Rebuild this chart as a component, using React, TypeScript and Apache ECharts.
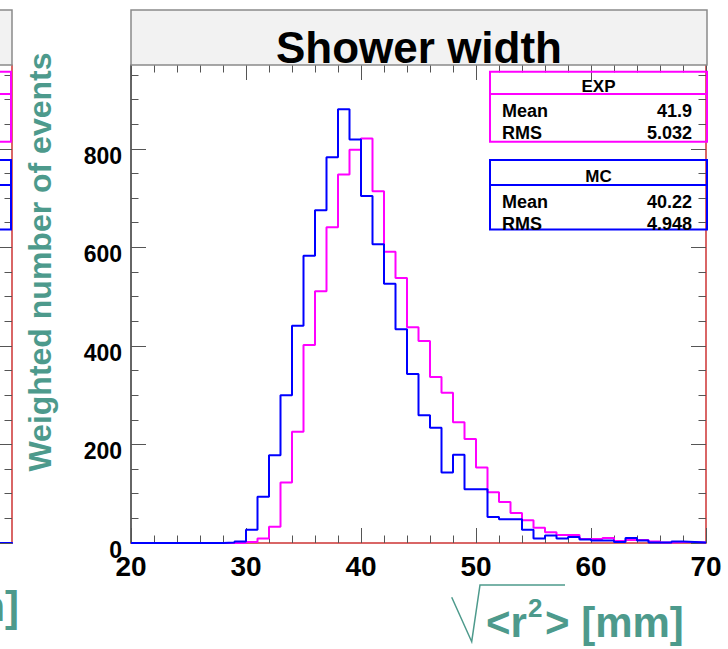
import React, { useEffect, useRef } from 'react';
import * as echarts from 'echarts';

// ---- data -------------------------------------------------------------
const BIN_LOW_EDGES = [
  20, 21, 22, 23, 24, 25, 26, 27, 28, 29,
  30, 31, 32, 33, 34, 35, 36, 37, 38, 39,
  40, 41, 42, 43, 44, 45, 46, 47, 48, 49,
  50, 51, 52, 53, 54, 55, 56, 57, 58, 59,
  60, 61, 62, 63, 64, 65, 66, 67, 68, 69,
];
const X_UPPER_EDGE = 70;

const EXP_COUNTS = [
  0, 0, 0, 0, 0, 0, 0, 0, 0, 0,
  2, 9, 33, 123, 226, 402, 511, 641, 748, 798,
  821, 714, 591, 538, 438, 410, 337, 305, 245, 211,
  153, 103, 83, 61, 46, 31, 22, 16, 16, 8,
  8, 10, 4, 6, 6, 3, 1, 2, 2, 1,
];
const MC_COUNTS = [
  0, 0, 0, 0, 0, 0, 0, 0, 1, 3,
  27, 94, 178, 300, 441, 583, 675, 783, 880, 819,
  704, 606, 526, 434, 343, 259, 234, 143, 179, 109,
  109, 53, 48, 48, 27, 9, 15, 9, 12, 7,
  5, 5, 2, 10, 5, 1, 1, 3, 2, 1,
];

const Y_MAJOR_TICKS = [0, 200, 400, 600, 800];
const Y_MINOR_TICKS = [50, 100, 150, 250, 300, 350, 450, 500, 550, 650, 700, 750, 850, 900, 950];

const EXP_STATS = ['EXP', '41.9', '5.032'];
const MC_STATS = ['MC', '40.22', '4.948'];
const STAT_NAMES = ['Mean', 'RMS'];

// ---- style ------------------------------------------------------------
const FONT = "'Liberation Sans', Arial, Helvetica, sans-serif";
const TEAL = '#4d9a8c';
const RED = '#cc3333';
const TICK = '#555555';
const MAGENTA = '#ff00ff';
const BLUE = '#0000ff';

function histPoints(counts: number[]) {
  const pts = BIN_LOW_EDGES.map((x, i) => [x, counts[i]]);
  pts.push([X_UPPER_EDGE, counts[counts.length - 1]]);
  return pts;
}

function statBox(top: number, div: number, bottom: number, color: string, left: number, right: number, labels: string[], withText: boolean) {
  const els: any[] = [
    {
      type: 'rect',
      z: 50,
      shape: { x: left, y: top, width: right - left, height: bottom - top },
      style: { fill: 'none', stroke: color, lineWidth: 2 },
    },
    {
      type: 'line',
      z: 50,
      shape: { x1: left, y1: div, x2: right, y2: div },
      style: { stroke: color, lineWidth: 2 },
    },
  ];
  if (withText) {
    const cx = (left + right) / 2;
    els.push({
      type: 'text', z: 51, x: cx, y: (top + div) / 2 + 4,
      style: { text: labels[0], fontFamily: FONT, fontWeight: 'bold', fontSize: 17, fill: '#000', align: 'center', verticalAlign: 'middle' },
    });
    const rowY = [div + 17, div + 38.5];
    STAT_NAMES.forEach((n, i) => {
      els.push({
        type: 'text', z: 51, x: left + 12, y: rowY[i],
        style: { text: n, fontFamily: FONT, fontWeight: 'bold', fontSize: 18, fill: '#000', align: 'left', verticalAlign: 'middle' },
      });
      els.push({
        type: 'text', z: 51, x: right - 15, y: rowY[i],
        style: { text: labels[i + 1], fontFamily: FONT, fontWeight: 'bold', fontSize: 18, fill: '#000', align: 'right', verticalAlign: 'middle' },
      });
    });
  }
  return els;
}

export default function App() {
  const ref = useRef<HTMLDivElement>(null);

  useEffect(() => {
    if (!ref.current) return;
    const chart = echarts.init(ref.current, undefined, { renderer: 'svg' });

    const tickStyle = { color: TICK, width: 1 };
    const yBase = { type: 'value', min: 0, max: 970, splitLine: { show: false } };

    const option: any = {
      animation: false,
      grid: [
        { left: 131, right: 22, top: 65, bottom: 106, containLabel: false, outerBoundsMode: 'none' },
        { left: -564, right: 716, top: 65, bottom: 106, containLabel: false, outerBoundsMode: 'none' },
      ],
      xAxis: [
        {
          gridIndex: 0, type: 'value', position: 'bottom', min: 20, max: 70, interval: 10,
          axisLine: { show: true, onZero: false, lineStyle: { color: RED, width: 1.5 } },
          axisTick: { show: true, inside: true, length: 15, lineStyle: tickStyle },
          minorTick: { show: true, splitNumber: 5, length: 7.5, lineStyle: tickStyle },
          axisLabel: { show: true, margin: 9, color: '#000', fontFamily: FONT, fontWeight: 'bold', fontSize: 28 },
          splitLine: { show: false },
        },
        {
          gridIndex: 0, type: 'value', position: 'top', min: 20, max: 70, interval: 10,
          axisLine: { show: false, onZero: false },
          axisTick: { show: true, inside: true, length: 15, lineStyle: tickStyle },
          minorTick: { show: true, splitNumber: 5, length: 7.5, lineStyle: tickStyle },
          axisLabel: { show: false },
          splitLine: { show: false },
        },
        {
          gridIndex: 1, type: 'value', position: 'bottom', min: 20, max: 70, interval: 10,
          axisLine: { show: true, onZero: false, lineStyle: { color: BLUE, width: 2 } },
          axisTick: { show: false },
          axisLabel: { show: false },
          splitLine: { show: false },
        },
      ],
      yAxis: [
        {
          ...yBase, gridIndex: 0, position: 'left',
          axisLine: { show: true, onZero: false, lineStyle: { color: '#333', width: 1.5 } },
          axisTick: { show: true, inside: true, length: 15, customValues: Y_MAJOR_TICKS, lineStyle: tickStyle },
          axisLabel: {
            show: true, customValues: Y_MAJOR_TICKS, margin: 9, color: '#000',
            fontFamily: FONT, fontWeight: 'bold', fontSize: 23,
            verticalAlign: 'top', lineHeight: 14,
          },
        },
        {
          ...yBase, gridIndex: 0, position: 'left',
          axisLine: { show: false, onZero: false },
          axisTick: { show: true, inside: true, length: 7.5, customValues: Y_MINOR_TICKS, lineStyle: tickStyle },
          axisLabel: { show: false },
        },
        {
          ...yBase, gridIndex: 0, position: 'right',
          axisLine: { show: true, onZero: false, lineStyle: { color: RED, width: 1.5 } },
          axisTick: { show: true, inside: true, length: 15, customValues: Y_MAJOR_TICKS, lineStyle: tickStyle },
          axisLabel: { show: false },
        },
        {
          ...yBase, gridIndex: 0, position: 'right',
          axisLine: { show: false, onZero: false },
          axisTick: { show: true, inside: true, length: 7.5, customValues: Y_MINOR_TICKS, lineStyle: tickStyle },
          axisLabel: { show: false },
        },
        {
          ...yBase, gridIndex: 1, position: 'right',
          axisLine: { show: true, onZero: false, lineStyle: { color: RED, width: 1.5 } },
          axisTick: { show: true, inside: true, length: 15, customValues: Y_MAJOR_TICKS, lineStyle: tickStyle },
          axisLabel: { show: false },
        },
        {
          ...yBase, gridIndex: 1, position: 'right',
          axisLine: { show: false, onZero: false },
          axisTick: { show: true, inside: true, length: 7.5, customValues: Y_MINOR_TICKS, lineStyle: tickStyle },
          axisLabel: { show: false },
        },
      ],
      series: [
        {
          name: 'EXP', type: 'line', step: 'end', xAxisIndex: 0, yAxisIndex: 0,
          data: histPoints(EXP_COUNTS), showSymbol: false, symbol: 'none',
          lineStyle: { color: MAGENTA, width: 2 }, z: 3,
        },
        {
          name: 'MC', type: 'line', step: 'end', xAxisIndex: 0, yAxisIndex: 0,
          data: histPoints(MC_COUNTS), showSymbol: false, symbol: 'none',
          lineStyle: { color: BLUE, width: 2 }, z: 4,
        },
      ],
      graphic: [
        // title pads
        {
          type: 'rect', z: 40,
          shape: { x: 131, y: 10, width: 576, height: 55 },
          style: { fill: '#f2f2f2', stroke: '#8a8a8a', lineWidth: 1.5 },
        },
        {
          type: 'rect', z: 40,
          shape: { x: -20, y: 10, width: 32, height: 55 },
          style: { fill: '#f2f2f2', stroke: '#8a8a8a', lineWidth: 1.5 },
        },
        {
          type: 'text', z: 41, x: 419, y: 47,
          style: { text: 'Shower width', fontFamily: FONT, fontWeight: 'bold', fontSize: 44, fill: '#000', align: 'center', verticalAlign: 'middle' },
        },
        // stat boxes
        ...statBox(71.7, 94, 141.7, MAGENTA, 490, 707, EXP_STATS, true),
        ...statBox(160, 185, 229.5, BLUE, 490, 707, MC_STATS, true),
        ...statBox(71.7, 94, 141.7, MAGENTA, -220, 11, EXP_STATS, false),
        ...statBox(160, 185, 229.5, BLUE, -220, 11, MC_STATS, false),
        // y axis title
        {
          type: 'text', z: 41, x: 39.5, y: 262, rotation: Math.PI / 2,
          style: { text: 'Weighted number of events', fontFamily: FONT, fontWeight: 'bold', fontSize: 32, fill: TEAL, align: 'center', verticalAlign: 'middle' },
        },
        // x axis title: sqrt(<r^2>) [mm]
        {
          type: 'polyline', z: 41,
          shape: { points: [[451.7, 597.3], [471.7, 641.7], [480, 585], [565, 585]] },
          style: { stroke: TEAL, lineWidth: 1.5, fill: 'none' },
        },
        {
          type: 'text', z: 41, x: 486, y: 622,
          style: { text: '<r', fontFamily: FONT, fontWeight: 'bold', fontSize: 42, fill: TEAL, align: 'left', verticalAlign: 'middle' },
        },
        {
          type: 'text', z: 41, x: 528, y: 608,
          style: { text: '2', fontFamily: FONT, fontWeight: 'bold', fontSize: 26, fill: TEAL, align: 'left', verticalAlign: 'middle' },
        },
        {
          type: 'text', z: 41, x: 545, y: 622,
          style: { text: '> [mm]', fontFamily: FONT, fontWeight: 'bold', fontSize: 42, fill: TEAL, align: 'left', verticalAlign: 'middle' },
        },
        // left neighbouring panel's x title end
        {
          type: 'text', z: 41, x: 19, y: 606,
          style: { text: '[mm]', fontFamily: FONT, fontWeight: 'bold', fontSize: 42, fill: TEAL, align: 'right', verticalAlign: 'middle' },
        },
      ],
    };

    chart.setOption(option);
    return () => {
      chart.dispose();
    };
  }, []);

  return (
    <div
      ref={ref}
      style={{ position: 'absolute', left: 0, top: 0, width: 728, height: 649, background: '#fff' }}
    />
  );
}
